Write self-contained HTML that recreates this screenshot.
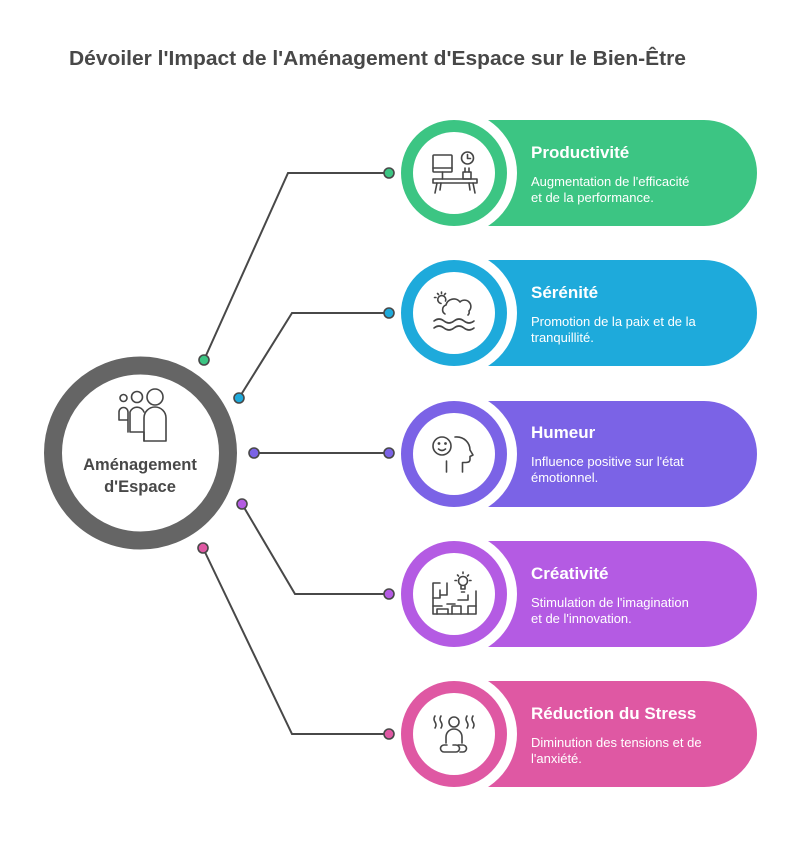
<!DOCTYPE html>
<html>
<head>
<meta charset="utf-8">
<style>
html,body{margin:0;padding:0;background:#fff;}
svg{display:block;}
.t{font-family:"Liberation Sans",sans-serif;font-weight:bold;fill:#fff;font-size:17px;}
.d{font-family:"Liberation Sans",sans-serif;fill:#fff;font-size:13px;}
.ic{fill:none;stroke:#454545;stroke-width:1.6;stroke-linecap:round;stroke-linejoin:round;}
.ln{fill:none;stroke:#484848;stroke-width:2;}
.dot{stroke:#484848;stroke-width:1.6;}
</style>
</head>
<body>
<svg width="800" height="859" viewBox="0 0 800 859" xmlns="http://www.w3.org/2000/svg">
<rect width="800" height="859" fill="#fff"/>
<text x="69" y="65" font-family="Liberation Sans, sans-serif" font-weight="bold" font-size="20.5" fill="#484848" textLength="617" lengthAdjust="spacingAndGlyphs">Dévoiler l'Impact de l'Aménagement d'Espace sur le Bien-Être</text>

<!-- center circle -->
<circle cx="140.5" cy="453" r="87.5" fill="#fff" stroke="#656565" stroke-width="18"/>
<g class="ic" stroke="#4a4a4a">
  <circle cx="123.5" cy="398" r="3.5"/>
  <circle cx="137" cy="397" r="5.5"/>
  <circle cx="155" cy="397" r="8"/>
  <path d="M128,432 V412 a4.5,4.5 0 0 0 -9,0 V420 H128"/>
  <path d="M144,441 V432 H130 V412 a7.5,7.5 0 0 1 14,0"/>
  <path d="M144,441 H166 V418 a11,11 0 0 0 -22,0 Z"/>
</g>
<text x="140" y="470" text-anchor="middle" font-family="Liberation Sans, sans-serif" font-weight="bold" font-size="16.5" fill="#484848">Aménagement</text>
<text x="140" y="492" text-anchor="middle" font-family="Liberation Sans, sans-serif" font-weight="bold" font-size="16.5" fill="#484848">d'Espace</text>

<!-- Row 1 -->
<path d="M454,120 H704 A53,53 0 0 1 704,226 H454 Z" fill="#3cc583"/>
<circle cx="454" cy="173" r="63" fill="#fff"/>
<circle cx="454" cy="173" r="53" fill="#3cc583"/>
<circle cx="454" cy="173" r="41" fill="#fff"/>
<g class="ic">
  <rect x="433" y="155" width="19" height="17" rx="1"/>
  <line x1="433" y1="168" x2="452" y2="168"/>
  <line x1="442.5" y1="172" x2="442.5" y2="179"/>
  <circle cx="467.5" cy="158" r="6"/>
  <polyline points="467.5,154.5 467.5,158.5 470.5,158.5"/>
  <rect x="463" y="172" width="8" height="7"/>
  <path d="M465,172 v-4 M469,172 v-4"/>
  <rect x="433" y="179" width="44" height="4"/>
  <path d="M437,183 L435,193 M473,183 L475,193 M441,183 L440,190 M469,183 L470,190"/>
</g>
<text class="t" x="531" y="158">Productivité</text>
<text class="d" x="531" y="186">Augmentation de l'efficacité</text>
<text class="d" x="531" y="202">et de la performance.</text>

<!-- Row 2 -->
<path d="M454,260 H704 A53,53 0 0 1 704,366 H454 Z" fill="#1eaadb"/>
<circle cx="454" cy="313" r="63" fill="#fff"/>
<circle cx="454" cy="313" r="53" fill="#1eaadb"/>
<circle cx="454" cy="313" r="41" fill="#fff"/>
<g class="ic">
  <path d="M445.5,301 a4,4 0 1 0 -4.5,2.5"/>
  <path d="M441.5,292 v1.5 M436,297.5 h-1.5 M437.5,293.5 l1,1 M445.5,293.5 l-1,1"/>
  <path d="M445,314 a5,5 0 0 1 1,-9 a8,8 0 0 1 14,-3 a6,6 0 0 1 9,9 a4,4 0 0 1 -1,4"/>
  <path d="M434,321 q5,-4 10,0 t10,0 t10,0 t10,0"/>
  <path d="M434,328 q5,-4 10,0 t10,0 t10,0 t10,0"/>
</g>
<text class="t" x="531" y="298">Sérénité</text>
<text class="d" x="531" y="326">Promotion de la paix et de la</text>
<text class="d" x="531" y="342">tranquillité.</text>

<!-- Row 3 -->
<path d="M454,401 H704 A53,53 0 0 1 704,507 H454 Z" fill="#7b63e6"/>
<circle cx="454" cy="454" r="63" fill="#fff"/>
<circle cx="454" cy="454" r="53" fill="#7b63e6"/>
<circle cx="454" cy="454" r="41" fill="#fff"/>
<g class="ic">
  <circle cx="442" cy="446" r="9"/>
  <circle cx="439" cy="443.5" r="0.6" fill="#454545"/>
  <circle cx="445.5" cy="443.5" r="0.6" fill="#454545"/>
  <path d="M438.5,449 q3.5,3 7,0"/>
  <line x1="446.5" y1="461" x2="446.5" y2="472"/>
  <path d="M455,437 c9,-1 15,6 15,13 l3,5 l-3,1.5 v3 q0,3 -4,3 h-3.5 v9.5"/>
</g>
<text class="t" x="531" y="438">Humeur</text>
<text class="d" x="531" y="466">Influence positive sur l'état</text>
<text class="d" x="531" y="482">émotionnel.</text>

<!-- Row 4 -->
<path d="M454,541 H704 A53,53 0 0 1 704,647 H454 Z" fill="#b45be3"/>
<circle cx="454" cy="594" r="63" fill="#fff"/>
<circle cx="454" cy="594" r="53" fill="#b45be3"/>
<circle cx="454" cy="594" r="41" fill="#fff"/>
<g class="ic">
  <path d="M440,583 H433 V614 H476 V591"/>
  <path d="M433,598 H440 V590 M447,583 V595 H441 M433,606 H442 M437,614 V609 H448 V614 M452,614 V606 H461 V614 M468,614 V606 H476 M468,595 V600 H458 M447,604 H455"/>
  <circle cx="463" cy="581" r="4.5"/>
  <path d="M461,586 V589 H465 V586 M461.5,592 H464.5"/>
  <path d="M463,572 v1.5 M455,580.5 h1.5 M471,580.5 h-1.5 M457.5,575 l1,1 M468.5,575 l-1,1"/>
</g>
<text class="t" x="531" y="579">Créativité</text>
<text class="d" x="531" y="607">Stimulation de l'imagination</text>
<text class="d" x="531" y="623">et de l'innovation.</text>

<!-- Row 5 -->
<path d="M454,681 H704 A53,53 0 0 1 704,787 H454 Z" fill="#df58a3"/>
<circle cx="454" cy="734" r="63" fill="#fff"/>
<circle cx="454" cy="734" r="53" fill="#df58a3"/>
<circle cx="454" cy="734" r="41" fill="#fff"/>
<g class="ic">
  <path d="M435,716 q-2,3 0,6 q2,3 0,6"/>
  <path d="M441,716 q-2,3 0,6 q2,3 0,6"/>
  <path d="M467,716 q-2,3 0,6 q2,3 0,6"/>
  <path d="M473,716 q-2,3 0,6 q2,3 0,6"/>
  <circle cx="454" cy="722" r="5"/>
  <path d="M446,743 v-6 a8,8 0 0 1 16,0 v6"/>
  <path d="M447,745 h-3 a3.5,3.5 0 0 0 0,7 h12 a3.5,3.5 0 0 0 0,-7 h-3"/>
  <path d="M458,745 h5 a3.5,3.5 0 0 1 0,7 h-3"/>
</g>
<text class="t" x="531" y="719">Réduction du Stress</text>
<text class="d" x="531" y="747">Diminution des tensions et de</text>
<text class="d" x="531" y="763">l'anxiété.</text>

<!-- connectors (drawn last so dots are fully visible) -->
<polyline class="ln" points="204,360 288,173 389,173"/>
<polyline class="ln" points="239,398 292,313 389,313"/>
<polyline class="ln" points="254,453 389,453"/>
<polyline class="ln" points="242,504 295,594 389,594"/>
<polyline class="ln" points="203,548 292,734 389,734"/>

<circle class="dot" cx="204" cy="360" r="5" fill="#3cc583"/>
<circle class="dot" cx="389" cy="173" r="5" fill="#3cc583"/>
<circle class="dot" cx="239" cy="398" r="5" fill="#1eaadb"/>
<circle class="dot" cx="389" cy="313" r="5" fill="#1eaadb"/>
<circle class="dot" cx="254" cy="453" r="5" fill="#7b63e6"/>
<circle class="dot" cx="389" cy="453" r="5" fill="#7b63e6"/>
<circle class="dot" cx="242" cy="504" r="5" fill="#b45be3"/>
<circle class="dot" cx="389" cy="594" r="5" fill="#b45be3"/>
<circle class="dot" cx="203" cy="548" r="5" fill="#df58a3"/>
<circle class="dot" cx="389" cy="734" r="5" fill="#df58a3"/>
</svg>
</body>
</html>
